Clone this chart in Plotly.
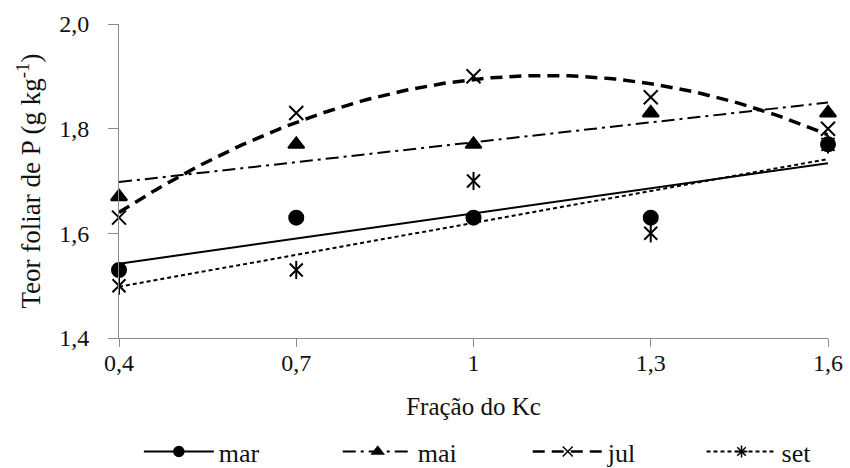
import numpy as np
import plotly.graph_objects as go

# Data
kc = [0.4, 0.7, 1.0, 1.3, 1.6]
mar = [1.53, 1.63, 1.63, 1.63, 1.77]
mai = [1.67, 1.77, 1.77, 1.83, 1.83]
jul = [1.63, 1.83, 1.90, 1.86, 1.80]
sett = [1.50, 1.53, 1.70, 1.60, 1.77]

x_ticks = [0.4, 0.7, 1.0, 1.3, 1.6]
x_ticktext = ["0,4", "0,7", "1", "1,3", "1,6"]
y_ticks = [1.4, 1.6, 1.8, 2.0]
y_ticktext = ["1,4", "1,6", "1,8", "2,0"]

FONT = "Liberation Serif, Times New Roman, serif"
BLACK = "#000000"
TXT = "#111111"

# Trend lines (least-squares fits of the data, evaluated on a grid)
xg = np.linspace(0.4, 1.6, 121)
def fit(y, deg):
    return np.polyval(np.polyfit(kc, y, deg), xg)

series = [
    # name, data, deg, marker symbol, marker size, dash, line width, legend id, legend x
    ("mar", mar, 1, "circle", 14, "solid", 2, "legend", 0.028),
    ("mai", mai, 1, "triangle-up", 14, "13px,5px,3px,5px", 2, "legend2", 0.3085),
    ("jul", jul, 2, "x-thin-open", 14, "12px,7px", 3.5, "legend3", 0.5765),
    ("set", sett, 1, "x-thin-open", 13, "4px,3px", 2, "legend4", 0.8216),
]

fig = go.Figure()
for name, y, deg, sym, size, dash, lw, lg, lx in series:
    fig.add_trace(go.Scatter(
        x=xg, y=fit(y, deg), mode="lines", showlegend=False,
        line=dict(color=BLACK, width=lw, dash=dash), hoverinfo="skip"))
for name, y, deg, sym, size, dash, lw, lg, lx in series:
    fig.add_trace(go.Scatter(
        x=kc, y=y, mode="markers", showlegend=False, cliponaxis=False,
        marker=dict(symbol=sym, size=size, color=BLACK,
                    line=dict(color=BLACK, width=2))))
    if name == "set":
        fig.add_trace(go.Scatter(
            x=kc, y=y, mode="markers", showlegend=False, cliponaxis=False,
            marker=dict(symbol="line-ns-open", size=size, color=BLACK,
                        line=dict(color=BLACK, width=2))))
# Legend entries (one legend per item for placement)
legends = {}
for name, y, deg, sym, size, dash, lw, lg, lx in series:
    fig.add_trace(go.Scatter(
        x=[None], y=[None], mode="lines+markers", name=name, legend=lg,
        marker=dict(symbol=sym if name != "set" else "asterisk-open", size=10,
                    color=BLACK, line=dict(color=BLACK, width=1.5)),
        line=dict(color=BLACK, width=min(lw, 2.5), dash=dash)))
    legends[lg] = dict(
        orientation="h", x=lx, xanchor="left", y=0.035, yref="container",
        yanchor="middle", font=dict(family=FONT, size=26, color=TXT),
        itemwidth=70, bgcolor="rgba(0,0,0,0)")

axis_common = dict(
    showgrid=False, zeroline=False, showline=True, linecolor="#8c8c8c",
    linewidth=1, ticks="outside", tickcolor="#8c8c8c", tickwidth=1,
    automargin=False,
    tickfont=dict(family=FONT, size=24, color=TXT),
)

fig.update_layout(
    width=850, height=468,
    margin=dict(l=119, r=22, t=24, b=130, autoexpand=False),
    paper_bgcolor="white", plot_bgcolor="white",
    font=dict(family=FONT, color=TXT),
    xaxis=dict(range=[0.4, 1.6], tickvals=x_ticks, ticktext=x_ticktext,
               ticklen=8, ticklabelstandoff=-5,
               title=dict(text="Fração do Kc", font=dict(family=FONT, size=25, color=TXT),
                          standoff=22),
               **axis_common),
    yaxis=dict(range=[1.4, 2.0], tickvals=y_ticks, ticktext=y_ticktext,
               ticklen=10, ticklabelstandoff=14,
               title=dict(text="Teor foliar de P (g kg<sup>-1</sup>)",
                          font=dict(family=FONT, size=27, color=TXT), standoff=10),
               **axis_common),
    showlegend=True,
    **legends,
)

fig.write_html("out.html")
